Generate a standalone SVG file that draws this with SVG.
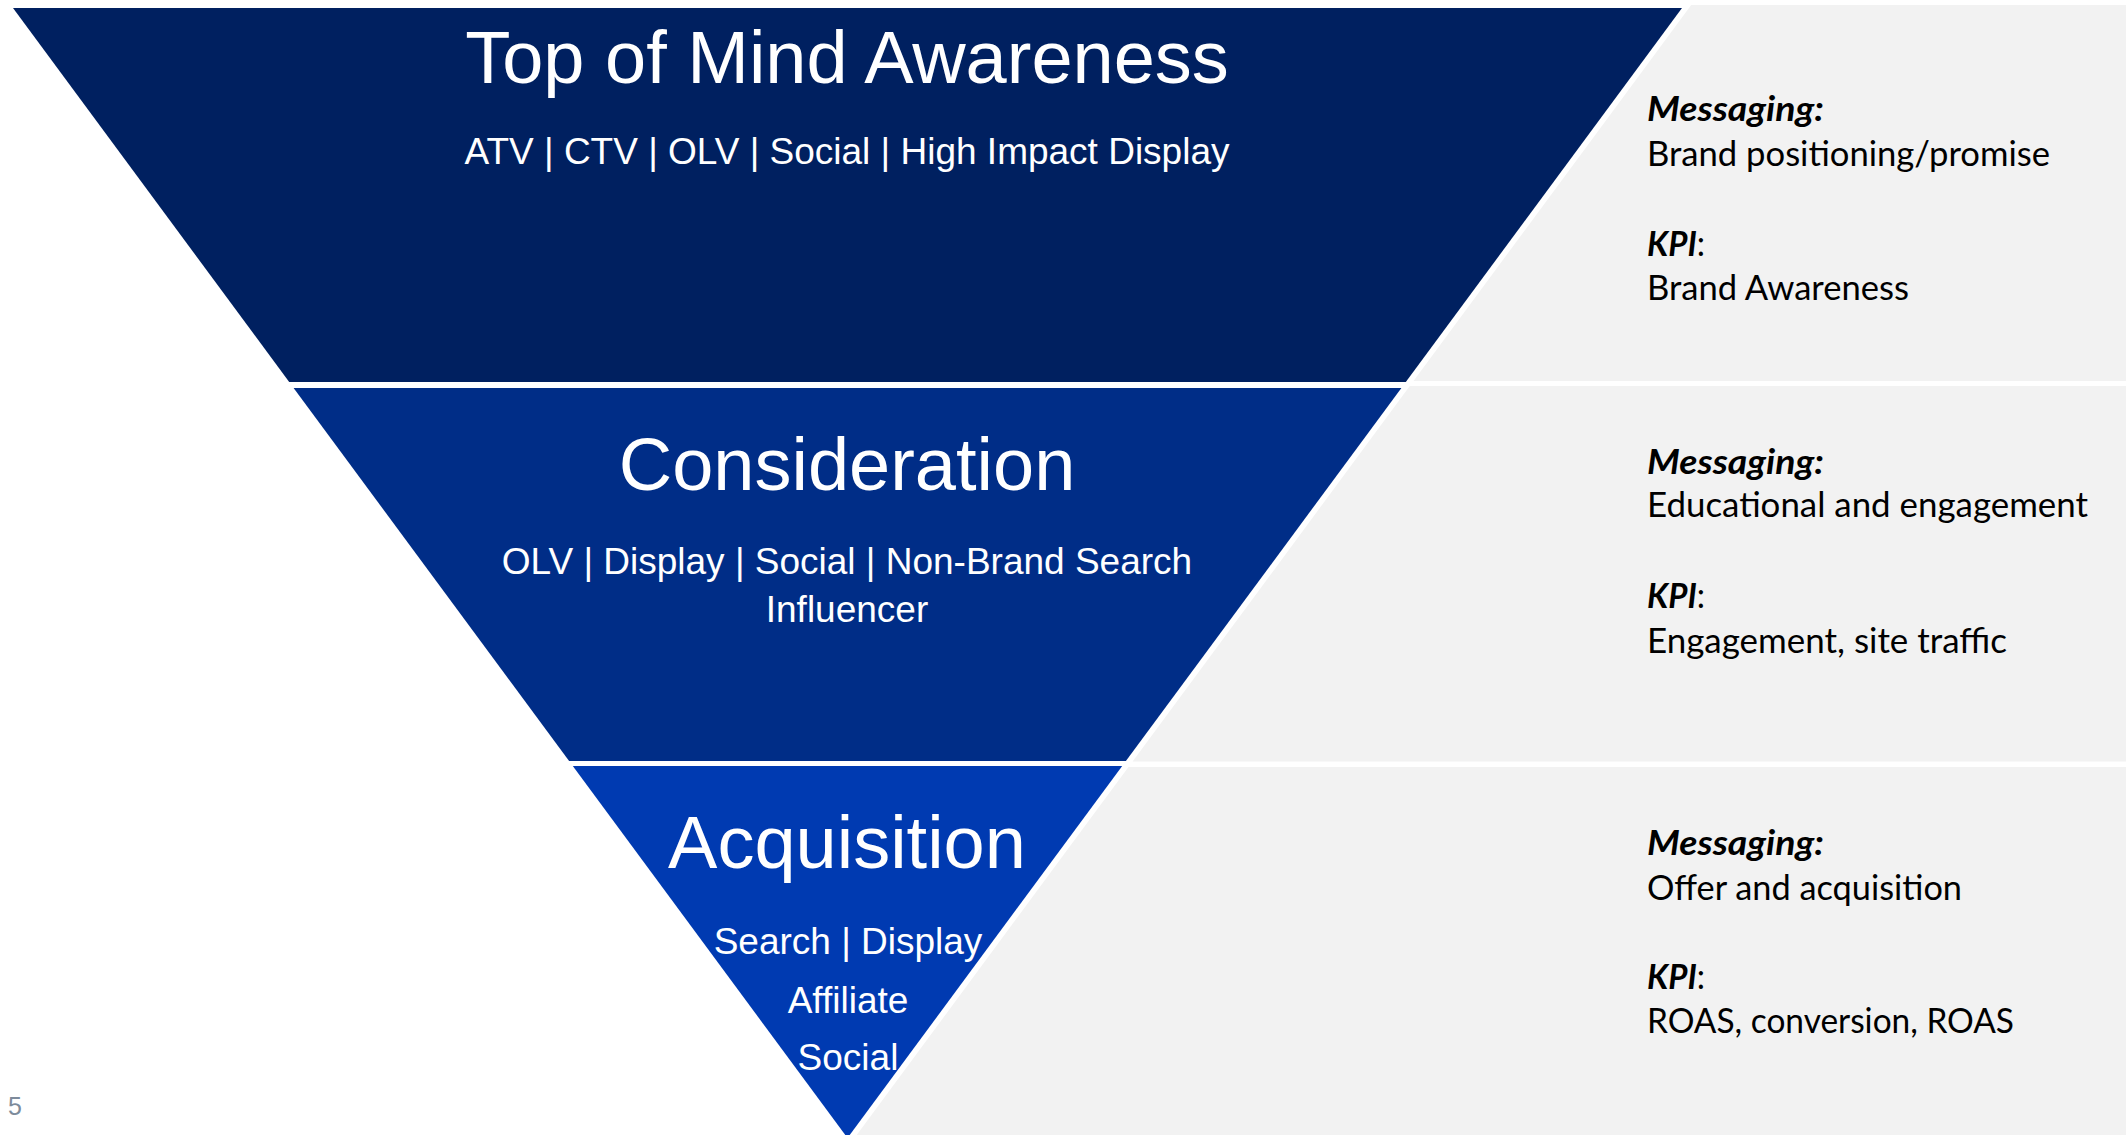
<svg xmlns="http://www.w3.org/2000/svg" width="2126" height="1135" viewBox="0 0 2126 1135">
  <style>
    .panel { fill: #F2F2F2; }
    .title { font-family: "Liberation Sans", Arial, sans-serif; font-size: 74px; fill: #FFFFFF; text-anchor: middle; }
    .sub { font-family: "Liberation Sans", Arial, sans-serif; font-size: 37px; fill: #FFFFFF; text-anchor: middle; }
    .note { font-family: Lato, "Open Sans", sans-serif; font-size: 34px; fill: #000000; }
    .lead { font-weight: bold; font-style: italic; }
    .page { font-family: "Liberation Sans", Arial, sans-serif; font-size: 25px; fill: #7D8B9B; }
  </style>

  <rect x="0" y="0" width="2126" height="1135" fill="#FFFFFF"/>

  <!-- grey side panels, left edge follows the funnel slope with a white gap -->
  <g id="panels">
    <polygon class="panel" points="1691.2,5 2126,5 2126,381 1413.5,381"/>
    <polygon class="panel" points="1409.8,386 2126,386 2126,761.5 1132.6,761.5"/>
    <polygon class="panel" points="1128.5,767 2126,767 2126,1135 856.7,1135"/>
  </g>

  <!-- funnel stage 1 -->
  <g id="stage-awareness">
    <polygon points="13,8 1682,8 1405.8,382 289.2,382" fill="#002060"/>
    <text class="title" x="847" y="83">Top of Mind Awareness</text>
    <text class="sub" x="847" y="163.5">ATV | CTV | OLV | Social | High Impact Display</text>
  </g>

  <!-- funnel stage 2 -->
  <g id="stage-consideration">
    <polygon points="293.6,388 1401.4,388 1125.9,761 569.1,761" fill="#002D87"/>
    <text class="title" x="847" y="490">Consideration</text>
    <text class="sub" x="847" y="574">OLV | Display | Social | Non-Brand Search</text>
    <text class="sub" x="847" y="622">Influencer</text>
  </g>

  <!-- funnel stage 3 -->
  <g id="stage-acquisition">
    <polygon points="572.8,766 1122.2,766 847.5,1138" fill="#003AB1"/>
    <text class="title" x="847" y="868">Acquisition</text>
    <text class="sub" x="848" y="954">Search | Display</text>
    <text class="sub" x="848" y="1013">Affiliate</text>
    <text class="sub" x="848" y="1070">Social</text>
  </g>

  <!-- stage notes -->
  <g id="notes-awareness">
    <text class="note lead" x="1647" y="121" textLength="177" lengthAdjust="spacingAndGlyphs">Messaging:</text>
    <text class="note" x="1647" y="165.5" textLength="403" lengthAdjust="spacingAndGlyphs">Brand positioning/promise</text>
    <text class="note" x="1647" y="256" textLength="58" lengthAdjust="spacingAndGlyphs"><tspan class="lead">KPI</tspan>:</text>
    <text class="note" x="1647" y="300" textLength="262" lengthAdjust="spacingAndGlyphs">Brand Awareness</text>
  </g>

  <g id="notes-consideration">
    <text class="note lead" x="1647" y="473.5" textLength="177" lengthAdjust="spacingAndGlyphs">Messaging:</text>
    <text class="note" x="1647" y="517" textLength="441" lengthAdjust="spacingAndGlyphs">Educational and engagement</text>
    <text class="note" x="1647" y="608" textLength="58" lengthAdjust="spacingAndGlyphs"><tspan class="lead">KPI</tspan>:</text>
    <text class="note" x="1647" y="652.5" textLength="360" lengthAdjust="spacingAndGlyphs">Engagement, site traffic</text>
  </g>

  <g id="notes-acquisition">
    <text class="note lead" x="1647" y="855" textLength="177" lengthAdjust="spacingAndGlyphs">Messaging:</text>
    <text class="note" x="1647" y="899.5" textLength="315" lengthAdjust="spacingAndGlyphs">Offer and acquisition</text>
    <text class="note" x="1647" y="988.5" textLength="58" lengthAdjust="spacingAndGlyphs"><tspan class="lead">KPI</tspan>:</text>
    <text class="note" x="1647" y="1032.5" textLength="367" lengthAdjust="spacingAndGlyphs">ROAS, conversion, ROAS</text>
  </g>

  <text class="page" x="8" y="1115">5</text>
</svg>
